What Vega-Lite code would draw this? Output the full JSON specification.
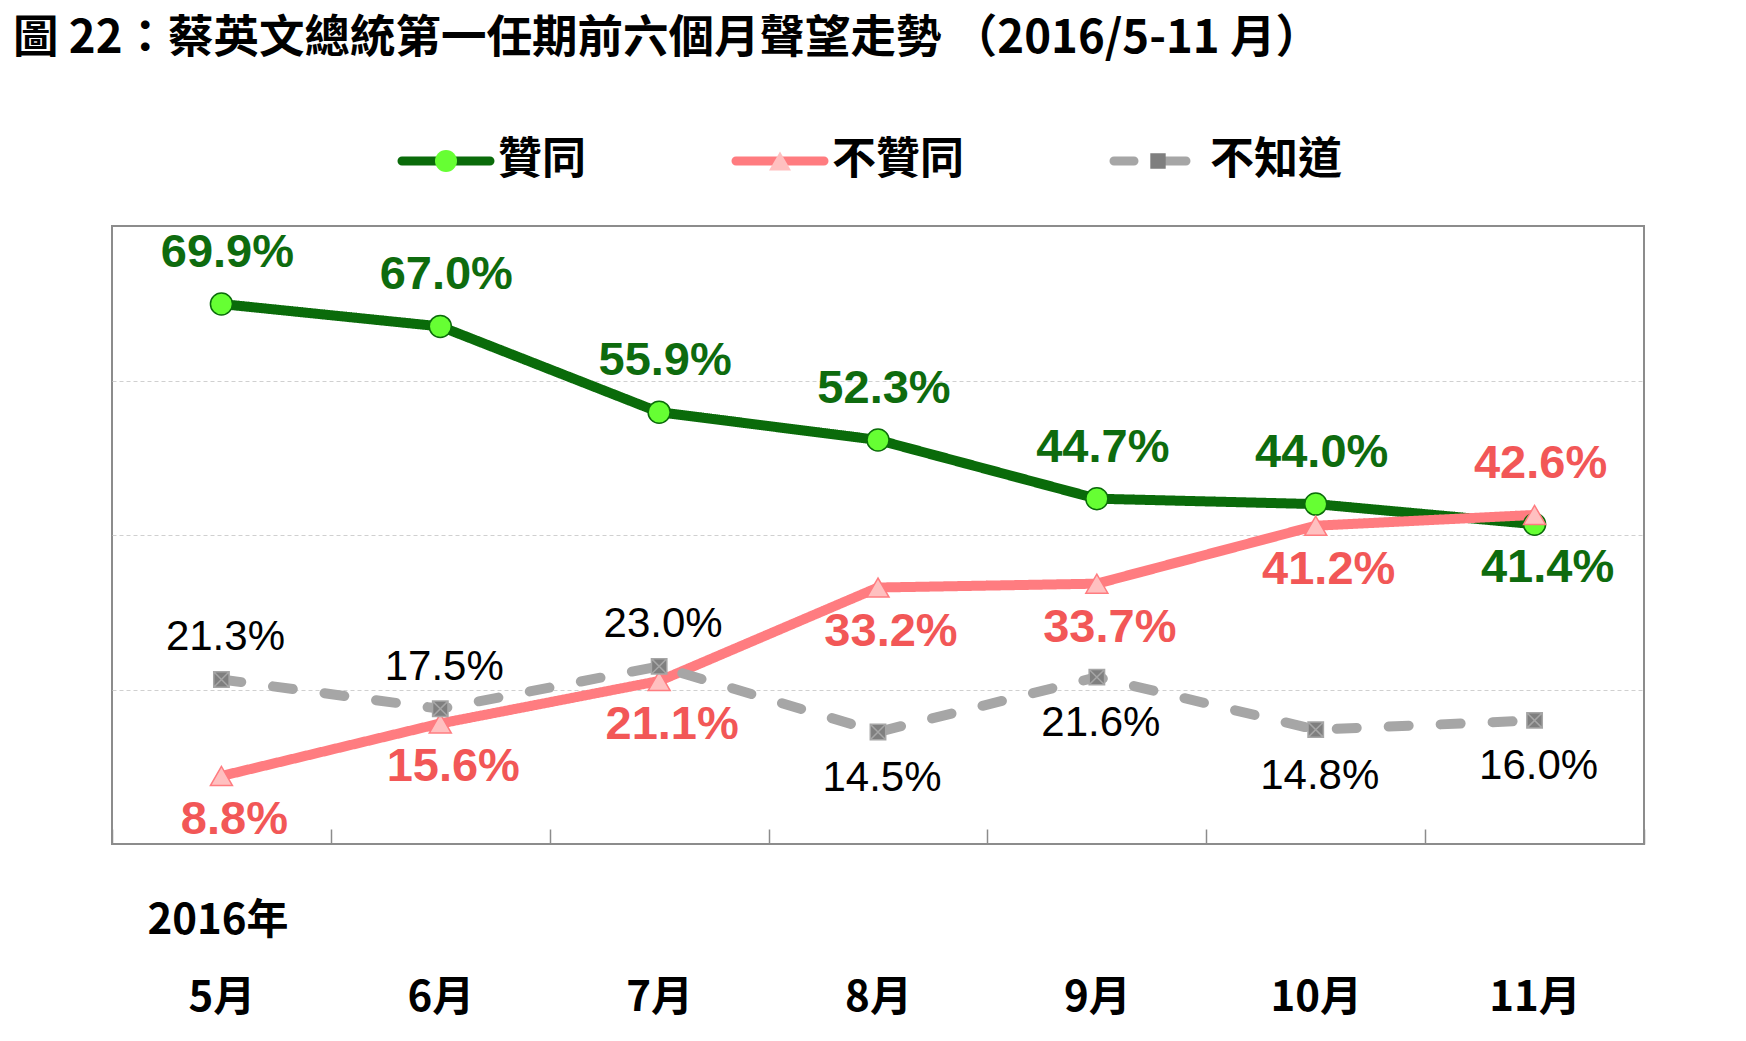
{
  "$schema": "https://vega.github.io/schema/vega-lite/v6.json",
  "autosize": "none",
  "width": 1532,
  "height": 618,
  "padding": {"left": 112, "top": 226, "right": 102, "bottom": 197},
  "background": "white",
  "title": {
    "text": "圖 22：蔡英文總統第一任期前六個月聲望走勢 （2016/5-11 月）",
    "anchor": "start",
    "frame": "group",
    "orient": "top",
    "font": "Noto Sans CJK TC",
    "fontSize": 45.5,
    "fontWeight": "bold",
    "color": "#000000",
    "dx": -99,
    "offset": 77
  },
  "data": {
    "values": [
      {"month": "5月", "series": "贊同", "value": 69.9},
      {"month": "6月", "series": "贊同", "value": 67.0},
      {"month": "7月", "series": "贊同", "value": 55.9},
      {"month": "8月", "series": "贊同", "value": 52.3},
      {"month": "9月", "series": "贊同", "value": 44.7},
      {"month": "10月", "series": "贊同", "value": 44.0},
      {"month": "11月", "series": "贊同", "value": 41.4},
      {"month": "5月", "series": "不贊同", "value": 8.8},
      {"month": "6月", "series": "不贊同", "value": 15.6},
      {"month": "7月", "series": "不贊同", "value": 21.1},
      {"month": "8月", "series": "不贊同", "value": 33.2},
      {"month": "9月", "series": "不贊同", "value": 33.7},
      {"month": "10月", "series": "不贊同", "value": 41.2},
      {"month": "11月", "series": "不贊同", "value": 42.6},
      {"month": "5月", "series": "不知道", "value": 21.3},
      {"month": "6月", "series": "不知道", "value": 17.5},
      {"month": "7月", "series": "不知道", "value": 23.0},
      {"month": "8月", "series": "不知道", "value": 14.5},
      {"month": "9月", "series": "不知道", "value": 21.6},
      {"month": "10月", "series": "不知道", "value": 14.8},
      {"month": "11月", "series": "不知道", "value": 16.0}
    ]
  },
  "transform": [
    {"calculate": "format(datum.value, '.1f') + '%'", "as": "label"}
  ],
  "encoding": {
    "x": {
      "field": "month",
      "type": "nominal",
      "sort": ["5月", "6月", "7月", "8月", "9月", "10月", "11月"],
      "scale": {"type": "band", "paddingInner": 0, "paddingOuter": 0},
      "axis": {
        "title": "2016年",
        "titleFont": "Noto Sans CJK TC",
        "titleFontSize": 42,
        "titleFontWeight": "bold",
        "titleColor": "#000000",
        "titleAnchor": "start",
        "titleAlign": "left",
        "titleBaseline": "middle",
        "titleX": 35,
        "titleY": 76,
        "labelFont": "Noto Sans CJK TC",
        "labelFontSize": 42,
        "labelFontWeight": "bold",
        "labelColor": "#000000",
        "labelAngle": 0,
        "labelBaseline": "middle",
        "labelPadding": 168,
        "tickBand": "extent",
        "tickSize": -15,
        "tickColor": "#8c8c8c",
        "tickWidth": 1.5,
        "domain": false,
        "grid": false
      }
    },
    "y": {
      "field": "value",
      "type": "quantitative",
      "scale": {"domain": [0, 80], "nice": false, "zero": true},
      "axis": {
        "title": null,
        "labels": false,
        "ticks": false,
        "domain": false,
        "grid": true,
        "values": [20, 40, 60],
        "gridColor": "#d0d0d0",
        "gridDash": [4, 3],
        "gridWidth": 1
      }
    }
  },
  "layer": [
    {
      "mark": {"type": "line", "strokeWidth": 10, "strokeCap": "round", "strokeJoin": "round"},
      "encoding": {
        "stroke": {
          "field": "series",
          "type": "nominal",
          "scale": {"domain": ["贊同", "不贊同", "不知道"], "range": ["#0a6b0a", "#ff7c80", "#a6a6a6"]},
          "legend": {
            "orient": "none",
            "direction": "horizontal",
            "legendX": 282,
            "legendY": -87,
            "title": null,
            "padding": 0,
            "symbolType": "M-4,0H4",
            "symbolSize": 484,
            "symbolStrokeWidth": 9,
            "symbolOffset": 30,
            "labelOffset": 30,
            "columnPadding": 142,
            "clipHeight": 44,
            "labelFont": "Noto Sans CJK TC",
            "labelFontSize": 44,
            "labelFontWeight": "bold",
            "labelColor": "#000000",
            "zindex": 0,
            "encode": {
              "symbols": {
                "update": {
                  "strokeCap": {"value": "round"},
                  "strokeDash": {"signal": "datum.value === '不知道' ? [30, 28] : []"}
                }
              }
            }
          }
        },
        "strokeDash": {
          "field": "series",
          "type": "nominal",
          "scale": {"domain": ["贊同", "不贊同", "不知道"], "range": [[1, 0], [1, 0], [20, 32]]},
          "legend": null
        }
      }
    },
    {
      "mark": {"type": "point", "filled": true, "size": 484, "strokeWidth": 1.5, "opacity": 1},
      "encoding": {
        "fill": {
          "field": "series",
          "type": "nominal",
          "scale": {"domain": ["贊同", "不贊同", "不知道", "_"], "range": ["#66ff33", "#ffc0c0", "#7f7f7f", "#ffffff"]},
          "legend": {
            "orient": "none",
            "direction": "horizontal",
            "legendX": 282,
            "legendY": -87,
            "title": null,
            "values": ["贊同", "不贊同", "不知道"],
            "padding": 0,
            "symbolSize": 484,
            "symbolStrokeWidth": 1.5,
            "symbolOffset": 30,
            "labelOffset": 30,
            "columnPadding": 142,
            "clipHeight": 44,
            "labelFont": "Noto Sans CJK TC",
            "labelFontSize": 44,
            "labelFontWeight": "bold",
            "labelOpacity": 0,
            "zindex": 1,
            "encode": {
              "symbols": {
                "update": {
                  "stroke": {"scale": "stroke", "field": "value"},
                  "opacity": {"value": 1}
                }
              }
            }
          }
        },
        "shape": {
          "field": "series",
          "type": "nominal",
          "scale": {
            "domain": ["贊同", "不贊同", "不知道", "_"],
            "range": ["circle", "triangle-up", "M-0.7,-0.7H0.7V0.7H-0.7Z M-0.7,-0.7L0.7,0.7 M0.7,-0.7L-0.7,0.7", "circle"]
          }
        },
        "stroke": {"field": "series", "type": "nominal", "legend": null}
      }
    },
    {
      "transform": [
        {"filter": "datum.series !== '不知道' && ((datum.series === '贊同' && datum.month !== '11月') || (datum.series === '不贊同' && datum.month === '11月'))"}
      ],
      "mark": {"type": "text", "font": "Liberation Sans", "fontSize": 47, "fontWeight": "bold", "dy": -51, "dx": 6, "align": "center", "baseline": "middle"},
      "encoding": {
        "text": {"field": "label"},
        "fill": {"condition": {"test": "datum.series === '贊同'", "value": "#0e6b0e"}, "value": "#f25757"}
      }
    },
    {
      "transform": [
        {"filter": "datum.series !== '不知道' && !((datum.series === '贊同' && datum.month !== '11月') || (datum.series === '不贊同' && datum.month === '11月'))"}
      ],
      "mark": {"type": "text", "font": "Liberation Sans", "fontSize": 47, "fontWeight": "bold", "dy": 44, "dx": 13, "align": "center", "baseline": "middle"},
      "encoding": {
        "text": {"field": "label"},
        "fill": {"condition": {"test": "datum.series === '贊同'", "value": "#0e6b0e"}, "value": "#f25757"}
      }
    },
    {
      "transform": [
        {"filter": "datum.series === '不知道' && (datum.month === '5月' || datum.month === '6月' || datum.month === '7月')"}
      ],
      "mark": {"type": "text", "font": "Liberation Sans", "fontSize": 42, "fontWeight": "normal", "dy": -42, "dx": 4, "align": "center", "baseline": "middle", "fill": "#000000"},
      "encoding": {
        "text": {"field": "label"}
      }
    },
    {
      "transform": [
        {"filter": "datum.series === '不知道' && !(datum.month === '5月' || datum.month === '6月' || datum.month === '7月')"}
      ],
      "mark": {"type": "text", "font": "Liberation Sans", "fontSize": 42, "fontWeight": "normal", "dy": 46, "dx": 4, "align": "center", "baseline": "middle", "fill": "#000000"},
      "encoding": {
        "text": {"field": "label"}
      }
    }
  ],
  "config": {
    "view": {"stroke": "#8c8c8c", "strokeWidth": 2}
  }
}
